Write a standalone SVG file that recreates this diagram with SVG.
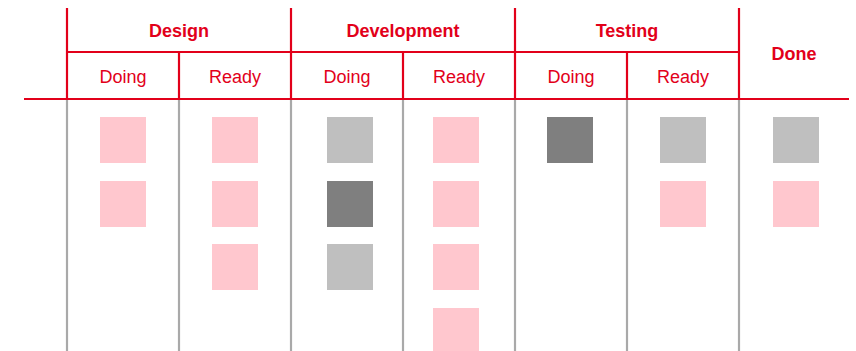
<svg xmlns="http://www.w3.org/2000/svg" width="856" height="351" viewBox="0 0 856 351">
<style>
.red{stroke:#e2001a;stroke-width:2.2;fill:none}
.gray{stroke:#a9a9a9;stroke-width:2.2;fill:none}
.h1{font-family:"Liberation Sans",Arial,sans-serif;font-size:18px;font-weight:bold;fill:#e2001a;text-anchor:middle}
.h2{font-family:"Liberation Sans",Arial,sans-serif;font-size:18px;fill:#e2001a;text-anchor:middle}
.p{fill:#ffc7ce}
.l{fill:#bfbfbf}
.d{fill:#7f7f7f}
</style>
<rect width="856" height="351" fill="#fff"/>
<g id="grid">
<g class="gray">
<line x1="67" y1="99" x2="67" y2="351"/>
<line x1="179" y1="99" x2="179" y2="351"/>
<line x1="291" y1="99" x2="291" y2="351"/>
<line x1="403" y1="99" x2="403" y2="351"/>
<line x1="515" y1="99" x2="515" y2="351"/>
<line x1="627" y1="99" x2="627" y2="351"/>
<line x1="739" y1="99" x2="739" y2="351"/>
</g>
<g class="red">
<line x1="67" y1="8" x2="67" y2="100"/>
<line x1="291" y1="8" x2="291" y2="100"/>
<line x1="515" y1="8" x2="515" y2="100"/>
<line x1="739" y1="8" x2="739" y2="100"/>
<line x1="179" y1="52" x2="179" y2="100"/>
<line x1="403" y1="52" x2="403" y2="100"/>
<line x1="627" y1="52" x2="627" y2="100"/>
<line x1="67" y1="52" x2="739" y2="52"/>
<line x1="24" y1="99" x2="849" y2="99"/>
</g>
</g>
<g id="headers">
<text class="h1" x="179" y="37">Design</text>
<text class="h1" x="403" y="37">Development</text>
<text class="h1" x="627" y="37">Testing</text>
<text class="h1" x="794" y="60">Done</text>
<text class="h2" x="123" y="83">Doing</text>
<text class="h2" x="235" y="83">Ready</text>
<text class="h2" x="347" y="83">Doing</text>
<text class="h2" x="459" y="83">Ready</text>
<text class="h2" x="571" y="83">Doing</text>
<text class="h2" x="683" y="83">Ready</text>
</g>
<g id="col-design-doing">
<rect class="p" x="100" y="117" width="46" height="46"/>
<rect class="p" x="100" y="181" width="46" height="46"/>
</g>
<g id="col-design-ready">
<rect class="p" x="212" y="117" width="46" height="46"/>
<rect class="p" x="212" y="181" width="46" height="46"/>
<rect class="p" x="212" y="244" width="46" height="46"/>
</g>
<g id="col-dev-doing">
<rect class="l" x="327" y="117" width="46" height="46"/>
<rect class="d" x="327" y="181" width="46" height="46"/>
<rect class="l" x="327" y="244" width="46" height="46"/>
</g>
<g id="col-dev-ready">
<rect class="p" x="433" y="117" width="46" height="46"/>
<rect class="p" x="433" y="181" width="46" height="46"/>
<rect class="p" x="433" y="244" width="46" height="46"/>
<rect class="p" x="433" y="308" width="46" height="46"/>
</g>
<g id="col-test-doing">
<rect class="d" x="547" y="117" width="46" height="46"/>
</g>
<g id="col-test-ready">
<rect class="l" x="660" y="117" width="46" height="46"/>
<rect class="p" x="660" y="181" width="46" height="46"/>
</g>
<g id="col-done">
<rect class="l" x="773" y="117" width="46" height="46"/>
<rect class="p" x="773" y="181" width="46" height="46"/>
</g>
</svg>
